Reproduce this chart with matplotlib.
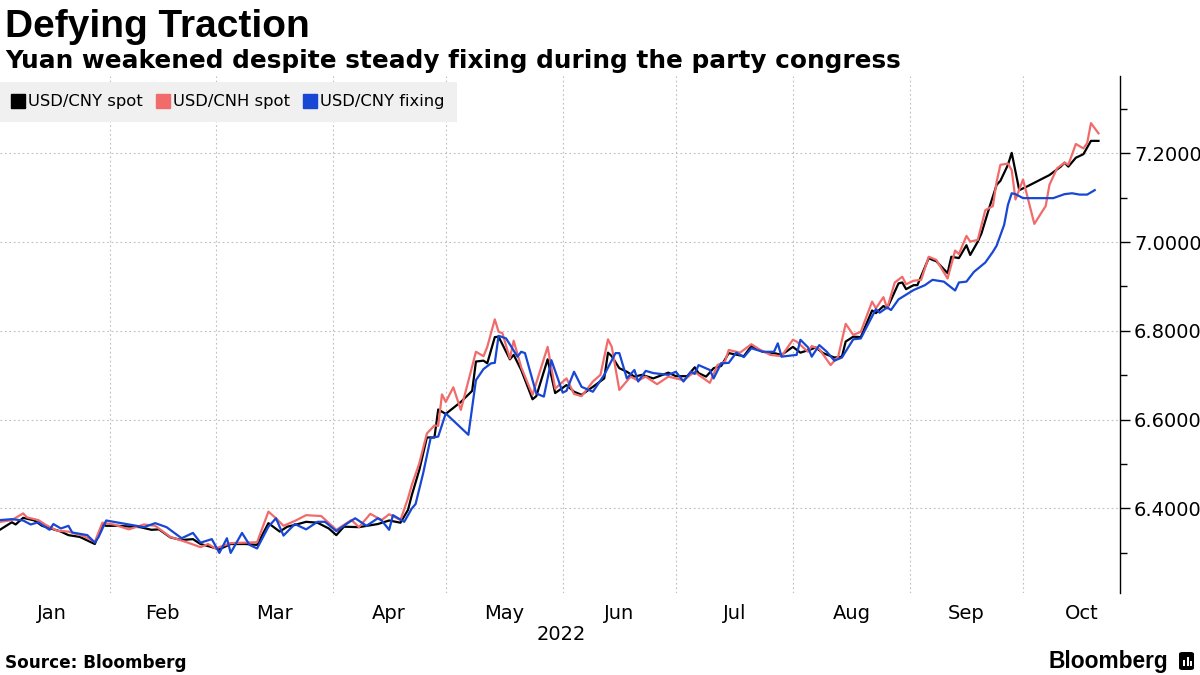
import matplotlib
matplotlib.use("Agg")
import matplotlib.pyplot as plt
import matplotlib.ticker as mticker
import matplotlib.dates as mdates
import pandas as pd
from matplotlib.lines import Line2D
from matplotlib.patches import FancyBboxPatch, Rectangle

# USD/CNY spot (black)
cny_dates = ["2022-01-03", "2022-01-06", "2022-01-07", "2022-01-09", "2022-01-12", "2022-01-14",
             "2022-01-19", "2022-01-21", "2022-01-24", "2022-01-28", "2022-01-30", "2022-01-31",
             "2022-02-03", "2022-02-09", "2022-02-12", "2022-02-14", "2022-02-17", "2022-02-20",
             "2022-02-23", "2022-02-25", "2022-02-28", "2022-03-02", "2022-03-05", "2022-03-09",
             "2022-03-12", "2022-03-15", "2022-03-18", "2022-03-20", "2022-03-22", "2022-03-25",
             "2022-03-28", "2022-03-31", "2022-04-02", "2022-04-04", "2022-04-08", "2022-04-13",
             "2022-04-16", "2022-04-19", "2022-04-21", "2022-04-22", "2022-04-24", "2022-04-26",
             "2022-04-28", "2022-04-29", "2022-05-01", "2022-05-05", "2022-05-08", "2022-05-09",
             "2022-05-11", "2022-05-12", "2022-05-14", "2022-05-15", "2022-05-18", "2022-05-19",
             "2022-05-21", "2022-05-24", "2022-05-25", "2022-05-28", "2022-05-30", "2022-06-02",
             "2022-06-04", "2022-06-06", "2022-06-09", "2022-06-12", "2022-06-13", "2022-06-14",
             "2022-06-16", "2022-06-18", "2022-06-20", "2022-06-22", "2022-06-25", "2022-06-29",
             "2022-07-01", "2022-07-04", "2022-07-06", "2022-07-07", "2022-07-09", "2022-07-11",
             "2022-07-13", "2022-07-15", "2022-07-19", "2022-07-21", "2022-07-24", "2022-07-27",
             "2022-07-29", "2022-08-01", "2022-08-03", "2022-08-06", "2022-08-07", "2022-08-09",
             "2022-08-12", "2022-08-14", "2022-08-15", "2022-08-17", "2022-08-19", "2022-08-22",
             "2022-08-23", "2022-08-25", "2022-08-26", "2022-08-29", "2022-08-30", "2022-08-31",
             "2022-09-02", "2022-09-03", "2022-09-06", "2022-09-07", "2022-09-08", "2022-09-11",
             "2022-09-12", "2022-09-14", "2022-09-16", "2022-09-17", "2022-09-19", "2022-09-20",
             "2022-09-22", "2022-09-24", "2022-09-25", "2022-09-27", "2022-09-28", "2022-09-30",
             "2022-10-02", "2022-10-08", "2022-10-11", "2022-10-12", "2022-10-13", "2022-10-15",
             "2022-10-17", "2022-10-19", "2022-10-21"]
cny_spot = [6.353, 6.369, 6.364, 6.379, 6.373, 6.361,
            6.348, 6.340, 6.336, 6.320, 6.364, 6.361,
            6.361, 6.358, 6.352, 6.353, 6.335, 6.329,
            6.331, 6.320, 6.313, 6.308, 6.320, 6.320,
            6.318, 6.367, 6.348, 6.359, 6.363, 6.370,
            6.368, 6.355, 6.340, 6.359, 6.358, 6.365,
            6.373, 6.368, 6.397, 6.430, 6.487, 6.560,
            6.560, 6.623, 6.613, 6.640, 6.665, 6.731,
            6.733, 6.727, 6.786, 6.787, 6.736, 6.746,
            6.712, 6.646, 6.653, 6.736, 6.660, 6.678,
            6.663, 6.656, 6.674, 6.693, 6.751, 6.743,
            6.716, 6.708, 6.697, 6.701, 6.693, 6.706,
            6.698, 6.698, 6.718, 6.705, 6.697, 6.716,
            6.721, 6.750, 6.743, 6.766, 6.753, 6.750,
            6.746, 6.764, 6.751, 6.759, 6.763, 6.750,
            6.740, 6.742, 6.776, 6.787, 6.786, 6.846,
            6.840, 6.856, 6.851, 6.907, 6.909, 6.894,
            6.903, 6.903, 6.964, 6.960, 6.957, 6.930,
            6.967, 6.964, 6.993, 6.971, 7.001, 7.020,
            7.076, 7.129, 7.138, 7.174, 7.201, 7.117,
            7.125, 7.151, 7.170, 7.179, 7.170, 7.190,
            7.198, 7.228, 7.228]

# USD/CNH spot (red)
cnh_dates = ["2022-01-03", "2022-01-06", "2022-01-09", "2022-01-10", "2022-01-13", "2022-01-15",
             "2022-01-18", "2022-01-21", "2022-01-25", "2022-01-28", "2022-01-30", "2022-02-02",
             "2022-02-06", "2022-02-10", "2022-02-13", "2022-02-17", "2022-02-21", "2022-02-25",
             "2022-02-27", "2022-03-01", "2022-03-05", "2022-03-12", "2022-03-15", "2022-03-17",
             "2022-03-19", "2022-03-22", "2022-03-25", "2022-03-29", "2022-04-02", "2022-04-06",
             "2022-04-08", "2022-04-11", "2022-04-14", "2022-04-16", "2022-04-19", "2022-04-21",
             "2022-04-22", "2022-04-24", "2022-04-26", "2022-04-28", "2022-04-29", "2022-04-30",
             "2022-05-01", "2022-05-03", "2022-05-05", "2022-05-09", "2022-05-11", "2022-05-12",
             "2022-05-14", "2022-05-15", "2022-05-16", "2022-05-18", "2022-05-19", "2022-05-21",
             "2022-05-24", "2022-05-28", "2022-05-30", "2022-06-02", "2022-06-04", "2022-06-06",
             "2022-06-09", "2022-06-11", "2022-06-13", "2022-06-14", "2022-06-16", "2022-06-19",
             "2022-06-21", "2022-06-23", "2022-06-26", "2022-06-29", "2022-07-01", "2022-07-03",
             "2022-07-06", "2022-07-07", "2022-07-10", "2022-07-12", "2022-07-14", "2022-07-15",
             "2022-07-18", "2022-07-21", "2022-07-23", "2022-07-26", "2022-07-29", "2022-08-01",
             "2022-08-02", "2022-08-05", "2022-08-06", "2022-08-08", "2022-08-11", "2022-08-13",
             "2022-08-15", "2022-08-17", "2022-08-19", "2022-08-22", "2022-08-23", "2022-08-25",
             "2022-08-26", "2022-08-28", "2022-08-30", "2022-08-31", "2022-09-02", "2022-09-04",
             "2022-09-06", "2022-09-08", "2022-09-11", "2022-09-13", "2022-09-14", "2022-09-16",
             "2022-09-17", "2022-09-19", "2022-09-21", "2022-09-23", "2022-09-24", "2022-09-25",
             "2022-09-27", "2022-09-28", "2022-09-29", "2022-10-01", "2022-10-04", "2022-10-06",
             "2022-10-07", "2022-10-08", "2022-10-10", "2022-10-12", "2022-10-13", "2022-10-15",
             "2022-10-17", "2022-10-18", "2022-10-19", "2022-10-21"]
cnh_spot = [6.370, 6.374, 6.389, 6.380, 6.374, 6.363,
            6.350, 6.348, 6.338, 6.325, 6.368, 6.364,
            6.353, 6.364, 6.361, 6.336, 6.325, 6.313,
            6.320, 6.310, 6.322, 6.324, 6.393, 6.378,
            6.361, 6.372, 6.385, 6.383, 6.352, 6.374,
            6.358, 6.388, 6.374, 6.387, 6.374, 6.423,
            6.453, 6.502, 6.569, 6.587, 6.586, 6.657,
            6.640, 6.673, 6.622, 6.753, 6.743, 6.764,
            6.826, 6.798, 6.795, 6.738, 6.778, 6.718,
            6.656, 6.764, 6.670, 6.693, 6.658, 6.653,
            6.686, 6.701, 6.781, 6.764, 6.667, 6.697,
            6.688, 6.697, 6.680, 6.697, 6.693, 6.689,
            6.708, 6.701, 6.683, 6.723, 6.731, 6.757,
            6.751, 6.770, 6.759, 6.746, 6.743, 6.780,
            6.776, 6.753, 6.766, 6.759, 6.723, 6.742,
            6.816, 6.791, 6.798, 6.866, 6.851, 6.876,
            6.851, 6.909, 6.922, 6.905, 6.913, 6.915,
            6.967, 6.960, 6.918, 6.981, 6.973, 7.014,
            7.001, 7.005, 7.072, 7.081, 7.136, 7.174,
            7.177, 7.162, 7.096, 7.141, 7.041, 7.068,
            7.081, 7.129, 7.166, 7.179, 7.174, 7.221,
            7.211, 7.223, 7.268, 7.245]

# USD/CNY fixing (blue)
fix_dates = ["2022-01-03", "2022-01-06", "2022-01-09", "2022-01-11", "2022-01-13", "2022-01-16",
             "2022-01-17", "2022-01-19", "2022-01-21", "2022-01-22", "2022-01-26", "2022-01-28",
             "2022-01-29", "2022-01-31", "2022-02-10", "2022-02-13", "2022-02-16", "2022-02-20",
             "2022-02-23", "2022-02-25", "2022-02-28", "2022-03-02", "2022-03-04", "2022-03-05",
             "2022-03-08", "2022-03-10", "2022-03-12", "2022-03-15", "2022-03-17", "2022-03-19",
             "2022-03-22", "2022-03-25", "2022-03-28", "2022-03-30", "2022-04-02", "2022-04-05",
             "2022-04-07", "2022-04-10", "2022-04-13", "2022-04-14", "2022-04-16", "2022-04-17",
             "2022-04-20", "2022-04-22", "2022-04-23", "2022-04-25", "2022-04-27", "2022-04-29",
             "2022-05-01", "2022-05-07", "2022-05-09", "2022-05-11", "2022-05-13", "2022-05-14",
             "2022-05-15", "2022-05-17", "2022-05-20", "2022-05-21", "2022-05-22", "2022-05-25",
             "2022-05-27", "2022-05-29", "2022-06-01", "2022-06-02", "2022-06-04", "2022-06-06",
             "2022-06-09", "2022-06-12", "2022-06-15", "2022-06-16", "2022-06-18", "2022-06-20",
             "2022-06-21", "2022-06-23", "2022-06-25", "2022-06-29", "2022-07-01", "2022-07-03",
             "2022-07-05", "2022-07-06", "2022-07-07", "2022-07-10", "2022-07-11", "2022-07-13",
             "2022-07-15", "2022-07-17", "2022-07-19", "2022-07-21", "2022-07-24", "2022-07-27",
             "2022-07-28", "2022-07-29", "2022-08-02", "2022-08-03", "2022-08-05", "2022-08-06",
             "2022-08-08", "2022-08-10", "2022-08-12", "2022-08-14", "2022-08-17", "2022-08-19",
             "2022-08-23", "2022-08-24", "2022-08-26", "2022-08-27", "2022-08-29", "2022-09-02",
             "2022-09-05", "2022-09-07", "2022-09-10", "2022-09-13", "2022-09-14", "2022-09-16",
             "2022-09-18", "2022-09-21", "2022-09-23", "2022-09-24", "2022-09-26", "2022-09-27",
             "2022-09-28", "2022-09-29", "2022-10-01", "2022-10-09", "2022-10-12", "2022-10-14",
             "2022-10-16", "2022-10-18", "2022-10-20"]
fix_vals = [6.374, 6.376, 6.373, 6.364, 6.369, 6.352,
            6.365, 6.355, 6.361, 6.346, 6.340, 6.323,
            6.336, 6.373, 6.358, 6.367, 6.358, 6.333,
            6.345, 6.323, 6.331, 6.300, 6.333, 6.300,
            6.345, 6.318, 6.310, 6.359, 6.378, 6.339,
            6.365, 6.353, 6.370, 6.370, 6.349, 6.367,
            6.378, 6.361, 6.378, 6.373, 6.352, 6.385,
            6.370, 6.400, 6.410, 6.479, 6.559, 6.562,
            6.614, 6.566, 6.689, 6.714, 6.727, 6.728,
            6.789, 6.783, 6.742, 6.753, 6.750, 6.659,
            6.652, 6.734, 6.661, 6.665, 6.708, 6.674,
            6.663, 6.701, 6.750, 6.750, 6.693, 6.712,
            6.686, 6.710, 6.705, 6.701, 6.708, 6.686,
            6.708, 6.703, 6.723, 6.712, 6.693, 6.727,
            6.728, 6.751, 6.741, 6.761, 6.753, 6.753,
            6.772, 6.742, 6.746, 6.780, 6.763, 6.742,
            6.768, 6.753, 6.733, 6.740, 6.781, 6.783,
            6.849, 6.841, 6.853, 6.847, 6.871, 6.892,
            6.903, 6.915, 6.911, 6.891, 6.909, 6.911,
            6.933, 6.954, 6.978, 6.992, 7.039, 7.084,
            7.110, 7.108, 7.099, 7.099, 7.108, 7.110,
            7.107, 7.107, 7.117]

series_labels = ["USD/CNY spot", "USD/CNH spot", "USD/CNY fixing"]
series_colors = ["#000000", "#f26b6b", "#1747d4"]

W, H = 1200, 675
fig = plt.figure(figsize=(12, 6.75), dpi=100)
ax = fig.add_axes([0, 1 - 593 / H, 1120 / W, (593 - 76) / H])

ax.plot(pd.to_datetime(cny_dates), cny_spot, color=series_colors[0], lw=1.6, zorder=3)
ax.plot(pd.to_datetime(cnh_dates), cnh_spot, color=series_colors[1], lw=1.6, zorder=3)
ax.plot(pd.to_datetime(fix_dates), fix_vals, color=series_colors[2], lw=1.6, zorder=3)

start = pd.Timestamp("2022-01-01")
ax.set_xlim(start + pd.Timedelta(days=1.86), start + pd.Timedelta(days=298.7))
ax.set_ylim(7.2 - (593 - 153.3) / 444, 7.2 + (153.3 - 76) / 444)

# y axis on the right
ax.yaxis.tick_right()
ax.yaxis.set_major_locator(mticker.MultipleLocator(0.2))
ax.yaxis.set_minor_locator(mticker.MultipleLocator(0.1))
ax.yaxis.set_major_formatter(mticker.FormatStrFormatter("%.4f"))
ax.tick_params(axis="y", which="major", length=7, width=1, pad=3, labelsize=14, colors="black")
ax.tick_params(axis="y", which="minor", length=5, width=1)

# x axis: gridlines at month starts, labels mid-month
months = pd.date_range("2022-01-01", "2022-10-01", freq="MS")
mids = [m + pd.Timedelta(days=m.days_in_month / 2) for m in months]
ax.xaxis.set_major_locator(mdates.MonthLocator())
ax.xaxis.set_major_formatter(mticker.NullFormatter())
ax.xaxis.set_minor_locator(mticker.FixedLocator(mdates.date2num(mids)))
ax.xaxis.set_minor_formatter(mticker.FixedFormatter([m.strftime("%b") for m in months]))
ax.tick_params(axis="x", which="both", length=0, pad=8, labelsize=14)

for s in ["top", "left", "bottom"]:
    ax.spines[s].set_visible(False)
ax.spines["right"].set_linewidth(1)

ax.grid(True, which="major", axis="both", color="#bdbdbd", linestyle=(0, (1.5, 2.5)), lw=0.8)
ax.set_axisbelow(True)

fig.text(561 / W, 1 - 634 / H, "2022", ha="center", va="center", fontsize=14)

# legend
handles = [Line2D([], [], marker="s", markersize=9.5, color=c, linestyle="none") for c in series_colors]
leg = fig.legend(handles, series_labels, loc="upper left", bbox_to_anchor=(0, 1 - 82 / H),
                 ncol=3, fontsize=11.8, frameon=True, fancybox=False, borderpad=0.75,
                 handlelength=0.7, handletextpad=0.25, columnspacing=0.9, borderaxespad=0)
leg.get_frame().set_facecolor("#f0f0f0")
leg.get_frame().set_edgecolor("none")
leg.get_frame().set_alpha(1)

# titles
fig.text(5 / W, 1 - 37 / H, "Defying Traction", fontsize=28, fontweight="heavy",
         family="Liberation Sans", va="baseline")
fig.text(5 / W, 1 - 68 / H, "Yuan weakened despite steady fixing during the party congress",
         fontsize=17.8, fontweight="bold", va="baseline")
fig.text(5 / W, 1 - 668 / H, "Source: Bloomberg", fontsize=12.2, fontweight="bold", va="baseline")
fig.text(1168 / W, 1 - 668 / H, "Bloomberg", fontsize=16.4, fontweight="bold",
         family="Liberation Sans", ha="right", va="baseline")

# small logo mark
fig.patches.append(FancyBboxPatch((1179 / W, 1 - 670 / H), 15 / W, 18 / H,
                                  boxstyle="round,pad=0,rounding_size=0.003",
                                  transform=fig.transFigure, facecolor="black", edgecolor="none"))
for bx, bh in [(1183, 6), (1186.5, 9), (1190, 5)]:
    fig.patches.append(Rectangle((bx / W, 1 - 666 / H), 2 / W, bh / H,
                                 transform=fig.transFigure, facecolor="white", edgecolor="none"))

fig.savefig("out.png", dpi=100)
